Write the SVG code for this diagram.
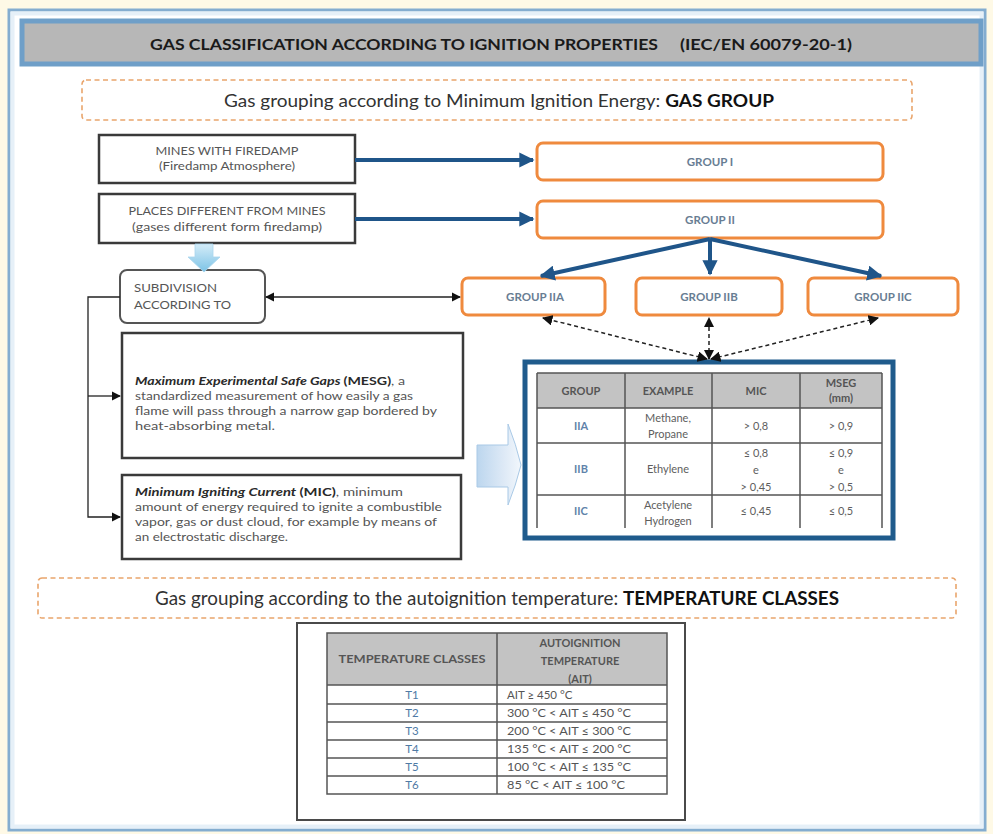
<svg xmlns="http://www.w3.org/2000/svg" width="993" height="834" viewBox="0 0 993 834">
<defs>
<style>
text{font-family:Lato,"Open Sans","Liberation Sans",sans-serif}
.t{font-size:10.5px;fill:#555}
.c{text-anchor:middle}
.grp{font-size:11.5px;font-weight:bold;fill:#687d93;text-anchor:middle}
.gbox{fill:#fff;stroke:#ef8a3e;stroke-width:3}
.box{fill:#fff;stroke:#3a3a3a;stroke-width:2.5}
.dash{fill:#fff;stroke:#e9a56c;stroke-width:1.6;stroke-dasharray:5 3.5}
.blue{stroke:#1f5589;stroke-width:4;fill:none}
.thin{stroke:#222;stroke-width:1.3;fill:none}
.dot{stroke:#222;stroke-width:1.5;fill:none;stroke-dasharray:4 3}
.tl{stroke:#555;stroke-width:1.5;fill:none}
.th{font-size:11px;font-weight:bold;fill:#555;text-anchor:middle}
.td{font-size:11px;fill:#5e5e5e;text-anchor:middle}
.tg{font-size:11px;font-weight:bold;fill:#5f83aa;text-anchor:middle}
.tt{font-size:11.5px;fill:#4f7aa5;text-anchor:middle}
.tr{font-size:11.5px;fill:#555}
</style>
<marker id="ab" viewBox="0 0 10 10" refX="9" refY="5" markerWidth="3.8" markerHeight="3.8" orient="auto-start-reverse"><path d="M0,0 L10,5 L0,10 z" fill="#1f5589"/></marker>
<marker id="ak" viewBox="0 0 10 10" refX="9" refY="5" markerWidth="7" markerHeight="7" orient="auto-start-reverse"><path d="M0,0 L10,5 L0,10 z" fill="#111"/></marker>
<linearGradient id="lb" x1="0" y1="0" x2="0" y2="1"><stop offset="0" stop-color="#d4ecf8"/><stop offset="1" stop-color="#7cc3e6"/></linearGradient>
<linearGradient id="lb2" x1="0" y1="0" x2="1" y2="0"><stop offset="0" stop-color="#bcd6ee"/><stop offset="0.6" stop-color="#dde9f6"/><stop offset="1" stop-color="#f2f7fc"/></linearGradient>
</defs>
<rect width="993" height="834" fill="#fef9e6"/>
<g id="frame">
<rect x="9" y="10" width="976" height="820" fill="#fff" stroke="#84add0" stroke-width="3"/>
<rect x="12.5" y="13.5" width="969" height="813" fill="none" stroke="#e6f0f8" stroke-width="4"/>
</g>
<g id="title">
<rect x="22" y="21" width="959" height="43" fill="#b7b7b7" stroke="#6f9fc8" stroke-width="5"/>
<text x="150" y="50" font-size="16" font-weight="bold" fill="#1a1a1a" textLength="508" lengthAdjust="spacingAndGlyphs">GAS CLASSIFICATION ACCORDING TO IGNITION PROPERTIES</text>
<text x="680" y="50" font-size="16" font-weight="bold" fill="#1a1a1a" textLength="172" lengthAdjust="spacingAndGlyphs">(IEC/EN 60079-20-1)</text>
</g>
<g id="gas-group-header">
<rect class="dash" x="82" y="80" width="830" height="40" rx="4"/>
<text x="224" y="107" font-size="16.5" fill="#333" textLength="550" lengthAdjust="spacingAndGlyphs">Gas grouping according to Minimum Ignition Energy: <tspan font-weight="bold" fill="#111">GAS GROUP</tspan></text>
</g>
<g id="mines">
<rect class="box" x="99" y="135" width="256" height="48"/>
<text class="t c" x="227" y="155" textLength="143" lengthAdjust="spacingAndGlyphs">MINES WITH FIREDAMP</text>
<text class="t c" x="227" y="170" textLength="136" lengthAdjust="spacingAndGlyphs">(Firedamp Atmosphere)</text>
</g>
<g id="places">
<rect class="box" x="99" y="194" width="256" height="49"/>
<text class="t c" x="227" y="215" textLength="197" lengthAdjust="spacingAndGlyphs">PLACES DIFFERENT FROM MINES</text>
<text class="t c" x="227" y="231" textLength="190" lengthAdjust="spacingAndGlyphs">(gases different form firedamp)</text>
</g>
<g id="group-i">
<rect class="gbox" x="537" y="143" width="346" height="37" rx="6"/>
<text class="grp" x="710" y="166">GROUP I</text>
</g>
<g id="group-ii">
<rect class="gbox" x="537" y="201" width="346" height="37" rx="6"/>
<text class="grp" x="710" y="224">GROUP II</text>
</g>
<g id="group-iia">
<rect class="gbox" x="462" y="278" width="143" height="37" rx="6"/>
<text class="grp" x="535" y="301">GROUP IIA</text>
</g>
<g id="group-iib">
<rect class="gbox" x="636" y="278" width="146" height="37" rx="6"/>
<text class="grp" x="709" y="301">GROUP IIB</text>
</g>
<g id="group-iic">
<rect class="gbox" x="808" y="278" width="150" height="37" rx="6"/>
<text class="grp" x="883" y="301">GROUP IIC</text>
</g>
<g id="subdivision">
<rect x="120" y="270" width="145" height="53" rx="7" fill="#fff" stroke="#555" stroke-width="2"/>
<text class="t" x="134" y="292" textLength="83" lengthAdjust="spacingAndGlyphs">SUBDIVISION</text>
<text class="t" x="134" y="309" textLength="97" lengthAdjust="spacingAndGlyphs">ACCORDING TO</text>
</g>
<g id="mesg">
<rect class="box" x="122" y="333" width="341" height="125"/>
<text class="t" x="135" y="385" textLength="270" lengthAdjust="spacingAndGlyphs"><tspan font-weight="bold" font-style="italic" fill="#2a2a2a">Maximum Experimental Safe Gaps </tspan><tspan font-weight="bold" fill="#2a2a2a">(MESG)</tspan>, a</text>
<text class="t" x="135" y="400" textLength="278" lengthAdjust="spacingAndGlyphs">standardized measurement of how easily a gas</text>
<text class="t" x="135" y="415" textLength="302" lengthAdjust="spacingAndGlyphs">flame will pass through a narrow gap bordered by</text>
<text class="t" x="135" y="430" textLength="140" lengthAdjust="spacingAndGlyphs">heat-absorbing metal.</text>
</g>
<g id="mic">
<rect class="box" x="122" y="475" width="339" height="84"/>
<text class="t" x="135" y="496" textLength="268" lengthAdjust="spacingAndGlyphs"><tspan font-weight="bold" font-style="italic" fill="#2a2a2a">Minimum Igniting Current  </tspan><tspan font-weight="bold" fill="#2a2a2a">(MIC)</tspan>, minimum</text>
<text class="t" x="135" y="511" textLength="307" lengthAdjust="spacingAndGlyphs">amount of energy required to ignite a combustible</text>
<text class="t" x="135" y="526" textLength="302" lengthAdjust="spacingAndGlyphs">vapor, gas or dust cloud, for example by means of</text>
<text class="t" x="135" y="541" textLength="153" lengthAdjust="spacingAndGlyphs">an electrostatic discharge.</text>
</g>
<g id="block-arrow">
<path d="M477,445 L508,445 L508,424 Q516,444 521,465 Q516,485 508,505 L508,487 L477,487 Z" fill="url(#lb2)" stroke="#a9c9e6" stroke-width="1"/>
</g>
<g id="gas-table">
<rect x="525" y="362" width="368" height="176" fill="#fff" stroke="#1f5b8c" stroke-width="5"/>
<rect x="537" y="373" width="345" height="35" fill="#c3c3c3"/>
<g class="tl">
<path d="M537,373 H882 M537,408 H882 M537,443 H882 M537,495 H882"/>
<path d="M537,373 V528 M625,373 V528 M712,373 V528 M800,373 V528 M882,373 V528"/>
</g>
<text class="th" x="581" y="395">GROUP</text>
<text class="th" x="668" y="395">EXAMPLE</text>
<text class="th" x="756" y="395">MIC</text>
<text class="th" x="841" y="387">MSEG</text>
<text class="th" x="841" y="402">(mm)</text>
<text class="tg" x="581" y="430">IIA</text>
<text class="td" x="668" y="422">Methane,</text>
<text class="td" x="668" y="438">Propane</text>
<text class="td" x="756" y="430">&gt; 0,8</text>
<text class="td" x="841" y="430">&gt; 0,9</text>
<text class="tg" x="581" y="473">IIB</text>
<text class="td" x="668" y="473">Ethylene</text>
<text class="td" x="756" y="457">≤ 0,8</text>
<text class="td" x="756" y="474">e</text>
<text class="td" x="756" y="491">&gt; 0,45</text>
<text class="td" x="841" y="457">≤ 0,9</text>
<text class="td" x="841" y="474">e</text>
<text class="td" x="841" y="491">&gt; 0,5</text>
<text class="tg" x="581" y="515">IIC</text>
<text class="td" x="668" y="509">Acetylene</text>
<text class="td" x="668" y="525">Hydrogen</text>
<text class="td" x="756" y="515">≤ 0,45</text>
<text class="td" x="841" y="515">≤ 0,5</text>
</g>
<g id="temp-header">
<rect class="dash" x="38" y="578" width="918" height="40" rx="4"/>
<text x="155" y="605" font-size="19" fill="#333" textLength="684" lengthAdjust="spacingAndGlyphs">Gas grouping according to the autoignition temperature: <tspan font-weight="bold" fill="#111">TEMPERATURE CLASSES</tspan></text>
</g>
<g id="temp-table">
<rect x="297" y="623" width="388" height="197" fill="#fff" stroke="#4a4a4a" stroke-width="2"/>
<rect x="327" y="633" width="340" height="52" fill="#c3c3c3"/>
<g class="tl">
<rect x="327" y="633" width="340" height="161"/>
<path d="M327,685 H667 M327,704 H667 M327,722 H667 M327,740 H667 M327,758 H667 M327,776 H667 M497,633 V794"/>
</g>
<text class="th" x="412" y="663" textLength="147" lengthAdjust="spacingAndGlyphs">TEMPERATURE CLASSES</text>
<text class="th" x="580" y="647">AUTOIGNITION</text>
<text class="th" x="580" y="665">TEMPERATURE</text>
<text class="th" x="580" y="683">(AIT)</text>
<text class="tt" x="412" y="699">T1</text>
<text class="tt" x="412" y="717">T2</text>
<text class="tt" x="412" y="735">T3</text>
<text class="tt" x="412" y="753">T4</text>
<text class="tt" x="412" y="771">T5</text>
<text class="tt" x="412" y="789">T6</text>
<text class="tr" x="507" y="699">AIT ≥ 450 °C</text>
<text class="tr" x="507" y="717" textLength="124" lengthAdjust="spacingAndGlyphs">300 °C &lt; AIT ≤ 450 °C</text>
<text class="tr" x="507" y="735" textLength="124" lengthAdjust="spacingAndGlyphs">200 °C &lt; AIT ≤ 300 °C</text>
<text class="tr" x="507" y="753" textLength="124" lengthAdjust="spacingAndGlyphs">135 °C &lt; AIT ≤ 200 °C</text>
<text class="tr" x="507" y="771" textLength="124" lengthAdjust="spacingAndGlyphs">100 °C &lt; AIT ≤ 135 °C</text>
<text class="tr" x="507" y="789" textLength="118" lengthAdjust="spacingAndGlyphs">85 °C &lt; AIT ≤ 100 °C</text>
</g>
<g id="connectors">
<path class="blue" d="M355,160 H533" marker-end="url(#ab)"/>
<path class="blue" d="M355,219 H533" marker-end="url(#ab)"/>
<path class="blue" d="M710,239 L541,276" marker-end="url(#ab)"/>
<path class="blue" d="M710,239 V274" marker-end="url(#ab)"/>
<path class="blue" d="M710,239 L881,276" marker-end="url(#ab)"/>
<path d="M195,244 H213 V257 H220 L204,272 L188,257 H195 Z" fill="url(#lb)" stroke="#a9d6ee" stroke-width="0.8"/>
<path class="thin" d="M266,297 H460" marker-start="url(#ak)" marker-end="url(#ak)"/>
<path class="thin" d="M120,297 H88 V517 H120" marker-end="url(#ak)"/>
<path class="thin" d="M88,396 H120" marker-end="url(#ak)"/>
<path class="dot" d="M707,359 L543,318" marker-start="url(#ak)" marker-end="url(#ak)"/>
<path class="dot" d="M709,359 V318" marker-start="url(#ak)" marker-end="url(#ak)"/>
<path class="dot" d="M711,359 L878,318" marker-start="url(#ak)" marker-end="url(#ak)"/>
</g>
</svg>
